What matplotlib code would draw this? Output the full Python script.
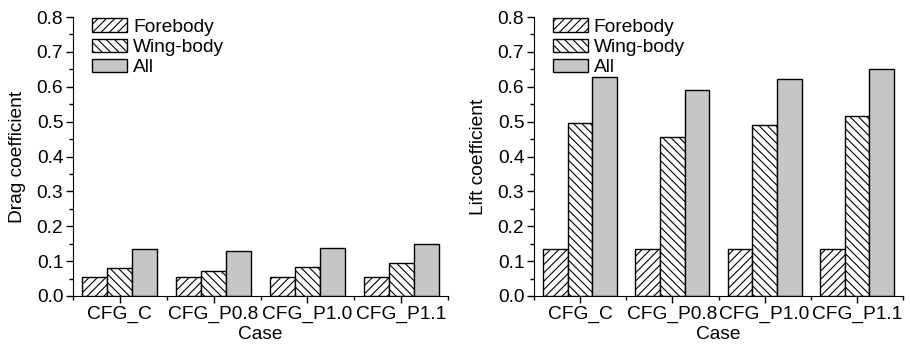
import numpy as np
import matplotlib.pyplot as plt
from matplotlib.ticker import MultipleLocator

plt.rcParams['font.family'] = ['Liberation Sans', 'DejaVu Sans']
plt.rcParams['hatch.linewidth'] = 0.8

# dados
casos = ['CFG_C', 'CFG_P0.8', 'CFG_P1.0', 'CFG_P1.1']
series = ['Forebody', 'Wing-body', 'All']

drag_fore = [0.055, 0.055, 0.055, 0.055]
drag_wing = [0.079, 0.073, 0.084, 0.095]
drag_all = [0.134, 0.128, 0.138, 0.149]

lift_fore = [0.136, 0.136, 0.136, 0.136]
lift_wing = [0.495, 0.457, 0.489, 0.516]
lift_all = [0.629, 0.590, 0.623, 0.650]

hatches = ['////', '\\\\\\\\', '']
cores = ['white', 'white', '#c6c6c6']
fs = 13.8


def grafico(ax, valores, ylabel):
    x = np.arange(len(casos))
    w = 0.8 / 3
    for i, (v, nome) in enumerate(zip(valores, series)):
        ax.bar(x + (i - 1) * w, v, w, color=cores[i], edgecolor='black',
               hatch=hatches[i], linewidth=1.0, label=nome)
    ax.set_xlim(-0.5, 3.5)
    ax.set_ylim(0, 0.8)
    ax.set_xticks(x)
    ax.set_xticklabels(casos)
    ax.xaxis.set_minor_locator(MultipleLocator(1, offset=0.5))
    ax.yaxis.set_major_locator(MultipleLocator(0.1))
    ax.yaxis.set_minor_locator(MultipleLocator(0.05))
    ax.yaxis.set_major_formatter(plt.FormatStrFormatter('%.1f'))
    ax.spines['top'].set_visible(False)
    ax.spines['right'].set_visible(False)
    ax.tick_params(which='major', direction='out', length=5, width=1,
                   labelsize=fs, pad=2)
    ax.tick_params(which='minor', direction='out', length=3, width=1)
    ax.set_xlabel('Case', fontsize=fs, labelpad=2.5)
    ax.set_ylabel(ylabel, fontsize=fs, labelpad=8)
    ax.legend(loc='upper left', fontsize=fs, frameon=False,
              bbox_to_anchor=(0.051, 0.995), handlelength=1.82,
              handleheight=0.68, handletextpad=0.31, labelspacing=0.16,
              borderpad=0, borderaxespad=0)


fig = plt.figure(figsize=(9.1, 3.49), dpi=100)
ax1 = fig.add_axes([73 / 910, 53 / 349, 375 / 910, 279 / 349])
ax2 = fig.add_axes([534 / 910, 53 / 349, 369 / 910, 279 / 349])

grafico(ax1, [drag_fore, drag_wing, drag_all], 'Drag coefficient')
grafico(ax2, [lift_fore, lift_wing, lift_all], 'Lift coefficient')

fig.savefig('out.png', dpi=100)
